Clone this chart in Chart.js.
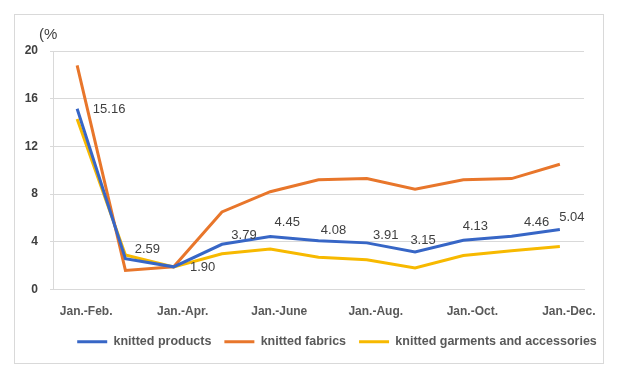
<!DOCTYPE html>
<html>
<head>
<meta charset="utf-8">
<script src="https://cdn.jsdelivr.net/npm/chart.js@4.4.1/dist/chart.umd.min.js"></script>
<style>
  html, body { margin: 0; padding: 0; background: #fff; }
  .chart-container { position: relative; width: 620px; height: 376px; }
  .frame { position: absolute; left: 14px; top: 14px; width: 588px; height: 348px; border: 1px solid #d9d9d9; }
  #knitChart { position: absolute; left: 0; top: 0; }
</style>
</head>
<body>
<div class="chart-container">
  <div class="frame"></div>
  <canvas id="knitChart" width="620" height="376"></canvas>
</div>
<script>
const periods = ['Jan.-Feb.', 'Jan.-Mar.', 'Jan.-Apr.', 'Jan.-May', 'Jan.-June', 'Jan.-July',
                 'Jan.-Aug.', 'Jan.-Sep.', 'Jan.-Oct.', 'Jan.-Nov.', 'Jan.-Dec.'];
const knittedProducts = [15.16, 2.59, 1.90, 3.79, 4.45, 4.08, 3.91, 3.15, 4.13, 4.46, 5.04];
const knittedFabrics = [18.8, 1.6, 1.9, 6.5, 8.2, 9.2, 9.3, 8.4, 9.2, 9.3, 10.5];
const knittedGarments = [14.3, 2.9, 1.9, 3.0, 3.4, 2.7, 2.5, 1.8, 2.85, 3.25, 3.6];
const yTicks = [0, 4, 8, 12, 16, 20];

// where each value label of the blue series sits, relative to its point
const labelOffsets = [[32, 1], [22, -9], [29, 1], [22, -9], [17, -14], [15, -10],
                      [19, -7], [8, -12], [12, -14], [25, -14], [12, -12]];

const axisFont = { family: 'Liberation Sans', size: 12, weight: 'bold' };

const valueLabels = {
    id: 'valueLabels',
    afterDatasetsDraw(chart) {
        const ctx = chart.ctx;
        const meta = chart.getDatasetMeta(0);
        ctx.save();
        ctx.font = '13px "Liberation Sans"';
        ctx.fillStyle = '#404040';
        ctx.textAlign = 'center';
        ctx.textBaseline = 'middle';
        meta.data.forEach((pt, i) => {
            const off = labelOffsets[i];
            ctx.fillText(knittedProducts[i].toFixed(2), pt.x + off[0], pt.y + off[1]);
        });
        // unit label above the y axis
        const y = chart.scales.y;
        ctx.textAlign = 'left';
        ctx.font = '15px "Liberation Sans"';
        ctx.fillText('(%', y.right - 14, y.top - 16);
        ctx.restore();
    }
};

const shiftLegend = {
    id: 'shiftLegend',
    afterLayout(chart) {
        chart.legend.left += 45;
        chart.legend.right += 45;
        chart.legend.top -= 1;
        chart.legend.bottom -= 1;
    }
};

const ctx = document.getElementById('knitChart').getContext('2d');
const knitChart = new Chart(ctx, {
    type: 'line',
    data: {
        labels: periods,
        datasets: [
            { label: 'knitted products', data: knittedProducts, borderColor: '#3766c6' },
            { label: 'knitted fabrics', data: knittedFabrics, borderColor: '#e8762b' },
            { label: 'knitted garments and accessories', data: knittedGarments, borderColor: '#f7b900' }
        ].map(ds => Object.assign(ds, { borderWidth: 3, pointRadius: 0, tension: 0, fill: false }))
    },
    options: {
        responsive: false,
        animation: false,
        devicePixelRatio: 1,
        layout: { padding: { top: 51, right: 36, left: 0, bottom: 17 } },
        scales: {
            x: {
                offset: true,
                grid: { display: false, drawTicks: false },
                border: { display: true, color: '#d9d9d9' },
                ticks: {
                    autoSkip: false,
                    maxRotation: 0,
                    padding: 15,
                    labelOffset: 9,
                    color: '#595959',
                    font: axisFont,
                    callback: (value, index) => index % 2 === 0 ? periods[index] : ''
                },
                afterFit: (scale) => { scale.height = 34; }
            },
            y: {
                min: 0,
                max: 20,
                afterBuildTicks: (scale) => { scale.ticks = yTicks.map(v => ({ value: v })); },
                grid: { color: '#d9d9d9', tickLength: 3 },
                border: { display: true, color: '#d9d9d9' },
                ticks: { padding: 12, color: '#404040', font: axisFont },
                afterFit: (scale) => { scale.width = 53; }
            }
        },
        plugins: {
            legend: {
                position: 'bottom',
                labels: {
                    usePointStyle: true,
                    pointStyle: 'line',
                    pointStyleWidth: 30,
                    padding: 13,
                    color: '#595959',
                    font: { family: 'Liberation Sans', size: 12.5, weight: 'bold' }
                }
            },
            tooltip: { enabled: false }
        }
    },
    plugins: [valueLabels, shiftLegend]
});
</script>
</body>
</html>
